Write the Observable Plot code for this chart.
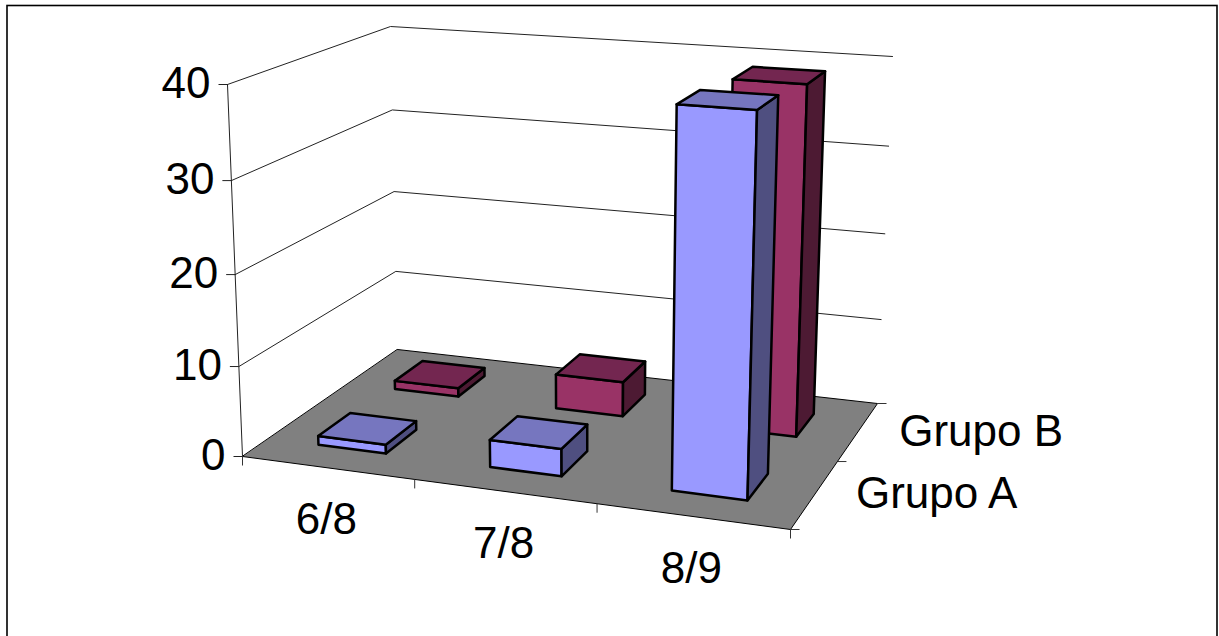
<!DOCTYPE html>
<html><head><meta charset="utf-8">
<script src="https://cdn.jsdelivr.net/npm/d3@7"></script>
<script src="https://cdn.jsdelivr.net/npm/@observablehq/plot@0.6"></script>
<style>html,body{margin:0;padding:0;background:#fff;overflow:hidden}</style>
</head><body><div id="chart"></div>
<script>
const categories = ["6/8", "7/8", "8/9"];
const seriesNames = ["Grupo A", "Grupo B"];
const grupoA = [1, 3, 40];
const grupoB = [1, 4, 39];
const valueTicks = [0, 10, 20, 30, 40];
const valueMax = 40;

// Colours per series: front, top, side
const faceColors = {
  "Grupo A": ["#9999ff", "#7676bf", "#4f4f80"],
  "Grupo B": ["#993366", "#732650", "#4d1a33"]
};

// View of the 3-D box: screen corners of floor and ceiling
const floorQuad = [[242, 456], [790, 529], [877, 403], [397, 349]];
const topQuad = [[227, 84], [803, 126], [892, 56], [390, 26]];

function quadMap(q) {
  const [[x0, y0], [x1, y1], [x2, y2], [x3, y3]] = q;
  const dx1 = x1 - x2, dx2 = x3 - x2, sx = x0 - x1 + x2 - x3;
  const dy1 = y1 - y2, dy2 = y3 - y2, sy = y0 - y1 + y2 - y3;
  const det = dx1 * dy2 - dx2 * dy1;
  const g = (sx * dy2 - dx2 * sy) / det, h = (dx1 * sy - sx * dy1) / det;
  const a = x1 - x0 + g * x1, b = x3 - x0 + h * x3;
  const d = y1 - y0 + g * y1, e = y3 - y0 + h * y3;
  return (s, t) => {
    const w = g * s + h * t + 1;
    return [(a * s + b * t + x0) / w, (d * s + e * t + y0) / w];
  };
}
const floorAt = quadMap(floorQuad), topAt = quadMap(topQuad);
// u: category axis 0..3, v: series axis 0..2, w: value
function project(u, v, w) {
  const s = u / categories.length, t = v / seriesNames.length;
  const f = floorAt(s, t), c = topAt(s, t);
  const r = w / valueMax;
  const k = r / (r + (1 - r) * 1.045);
  return [f[0] + (c[0] - f[0]) * k, f[1] + (c[1] - f[1]) * k];
}

const poly = (id, fill, pts) => pts.map(p => {
  const [x, y] = project(...p);
  return {id, fill, x, y};
});

// Floor
const floor = poly("floor", "#808080", [[0,0,0],[3,0,0],[3,2,0],[0,2,0]]);

// Gridlines on the two walls
const grid = valueTicks.slice(1).flatMap(w =>
  poly("g" + w, "none", [[0,0,w],[0,2,w],[3,2,w]]));

// Bars
const gap = 0.3;
const faces = [];
[grupoB, grupoA].forEach((vals, si) => {
  const name = si === 0 ? "Grupo B" : "Grupo A";
  const v0 = (si === 0 ? 1 : 0) + gap, v1 = v0 + 1 - 2 * gap;
  const [front, top, side] = faceColors[name];
  vals.forEach((val, ci) => {
    const u0 = ci + gap, u1 = ci + 1 - gap, id = name + ci;
    faces.push(
      ...poly(id + "f", front, [[u0,v0,0],[u1,v0,0],[u1,v0,val],[u0,v0,val]]),
      ...poly(id + "s", side, [[u1,v0,0],[u1,v1,0],[u1,v1,val],[u1,v0,val]]),
      ...poly(id + "t", top, [[u0,v0,val],[u1,v0,val],[u1,v1,val],[u0,v1,val]])
    );
  });
});

// Axis lines and tick marks
const axisY = poly("axis", "none", [[0,0,0],[0,0,valueMax]]);
const pt = (u, v, w) => { const [x, y] = project(u, v, w); return {x, y}; };
const tickLen = 9;
const yTicks = valueTicks.map(w => ({...pt(0,0,w), label: String(w)}));
const uTicks = d3.range(0, categories.length + 1).map(u => pt(u,0,0));
const vTicks = d3.range(0, seriesNames.length + 1).map(v => pt(3,v,0));

const catLabels = categories.map((c, i) => ({...pt(i + 0.5, 0, 0), label: c}));
const serLabels = seriesNames.map((s, i) => ({...pt(3, i + 0.5, 0), label: s}));

const font = {fontFamily: "'Liberation Sans', Arial, sans-serif", fontSize: 44, fill: "#000", stroke: "none"};

const chart = Plot.plot({
  width: 1219, height: 636,
  marginTop: 0, marginRight: 0, marginBottom: 0, marginLeft: 0,
  x: {type: "linear", domain: [0, 1219], range: [0, 1219], axis: null},
  y: {type: "linear", domain: [0, 636], range: [0, 636], axis: null},
  marks: [
    Plot.frame({stroke: "#000", strokeWidth: 1.6, insetTop: 5, insetLeft: 6.5, insetRight: 2.5, insetBottom: -10}),
    Plot.line(floor, {x: "x", y: "y", z: "id", fill: "fill", stroke: "#000", strokeWidth: 1, curve: "linear-closed"}),
    Plot.line(grid, {x: "x", y: "y", z: "id", stroke: "#222", strokeWidth: 1}),
    Plot.line(axisY, {x: "x", y: "y", z: "id", stroke: "#222", strokeWidth: 1}),
    Plot.link(yTicks, {x1: d => d.x - tickLen, x2: "x", y1: "y", y2: "y", stroke: "#222", strokeWidth: 1}),
    Plot.link(uTicks, {x1: "x", x2: "x", y1: "y", y2: d => d.y + tickLen, stroke: "#333", strokeWidth: 1}),
    Plot.link(vTicks, {x1: "x", x2: d => d.x + tickLen, y1: "y", y2: "y", stroke: "#333", strokeWidth: 1}),
    Plot.line(faces, {x: "x", y: "y", z: "id", fill: "fill", stroke: "#000", strokeWidth: 2.5, strokeLinejoin: "round", curve: "linear-closed"}),
    Plot.text(yTicks, {x: d => d.x - 17, y: "y", dy: -1, text: "label", textAnchor: "end", ...font}),
    Plot.text(catLabels, {x: "x", y: "y", dx: -1, dy: 52, text: "label", textAnchor: "middle", ...font}),
    Plot.text(serLabels, {x: "x", y: "y", dx: 41, dy: 0, text: "label", textAnchor: "start", ...font})
  ]
});
document.getElementById("chart").appendChild(chart);
</script></body></html>
